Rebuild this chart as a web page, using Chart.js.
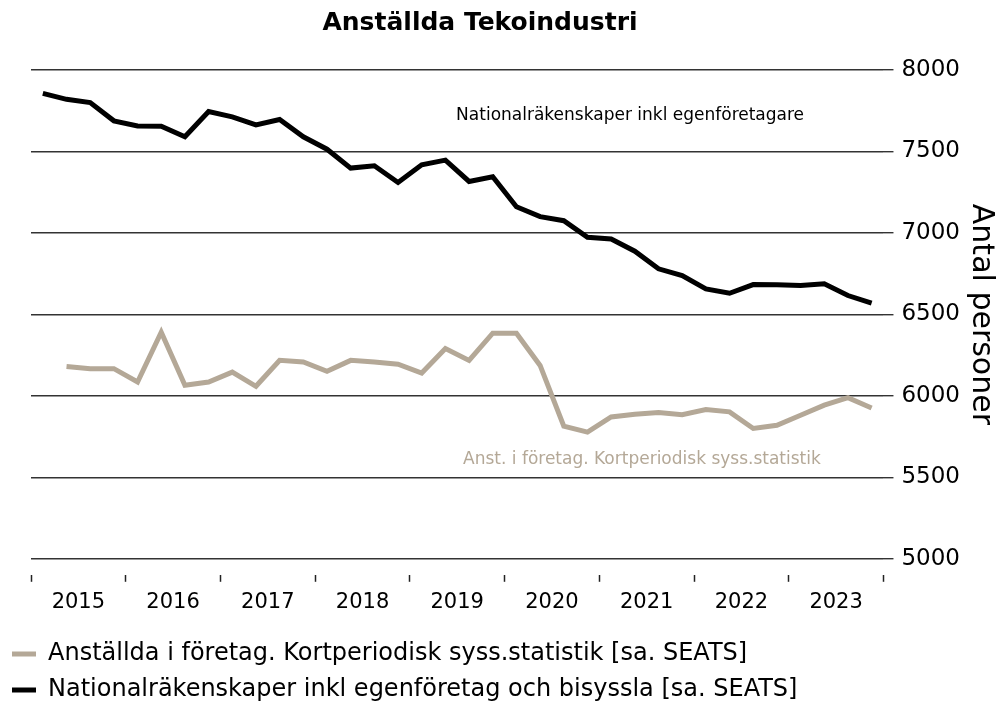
<!DOCTYPE html>
<html lang="sv">
<head>
  <meta charset="UTF-8">
  <title>Anställda Tekoindustri</title>
  <script src="https://cdn.jsdelivr.net/npm/chart.js"></script>
  <style>
    html, body { margin: 0; padding: 0; background: #fff; }
    #wrap { width: 1001px; height: 702px; }
  </style>
</head>
<body>
  <div id="wrap"><canvas id="chart"></canvas></div>
  <script>
    // Kvartalsdata 2015K1 - 2023K4
    const years = ['2015', '2016', '2017', '2018', '2019', '2020', '2021', '2022', '2023'];
    const yTicks = [5000, 5500, 6000, 6500, 7000, 7500, 8000];

    // Nationalräkenskaper inkl egenföretag och bisyssla [sa. SEATS]
    const nationalrakenskaper = [
      7857, 7820, 7800, 7688, 7657, 7655, 7590, 7745, 7712, 7663, 7696, 7590,
      7514, 7398, 7412, 7310, 7418, 7447, 7316, 7345, 7161, 7100, 7075, 6973,
      6963, 6888, 6780, 6739, 6657, 6630, 6683, 6682, 6677, 6688, 6616, 6569
    ];
    // Anställda i företag. Kortperiodisk syss.statistik [sa. SEATS]
    const kortperiodisk = [
      null, 6181, 6167, 6167, 6085, 6391, 6065, 6085, 6146, 6059, 6218, 6208,
      6151, 6218, 6208, 6194, 6140, 6290, 6218, 6385, 6385, 6187, 5814, 5778,
      5871, 5887, 5898, 5885, 5916, 5902, 5800, 5820, 5881, 5943, 5989, 5926
    ];

    const FONT = '"DejaVu Sans", sans-serif';
    const GRAY = '#b4a897';

    function toPoints(arr) {
      return arr.map((v, i) => ({ x: i + 0.5, y: v }));
    }

    // text labels next to the lines + rotated axis title
    const extraText = {
      id: 'extraText',
      afterDatasetsDraw(chart) {
        const { ctx, scales: { x, y } } = chart;
        ctx.save();
        ctx.font = '17px ' + FONT;
        ctx.textAlign = 'center';
        ctx.textBaseline = 'middle';
        ctx.fillStyle = '#000';
        ctx.fillText('Nationalräkenskaper inkl egenföretagare', x.getPixelForValue(25.3), y.getPixelForValue(7718));
        ctx.fillStyle = GRAY;
        ctx.fillText('Anst. i företag. Kortperiodisk syss.statistik', x.getPixelForValue(25.8), y.getPixelForValue(5612));

        // y axis title
        ctx.translate(981, (y.getPixelForValue(8000) + y.getPixelForValue(5000)) / 2);
        ctx.rotate(Math.PI / 2);
        ctx.fillStyle = '#000';
        ctx.font = '30px ' + FONT;
        ctx.fillText('Antal personer', 0, 0);
        ctx.restore();
      }
    };

    const ctx = document.getElementById('chart').getContext('2d');
    new Chart(ctx, {
      type: 'line',
      data: {
        datasets: [
          {
            label: 'Anställda i företag. Kortperiodisk syss.statistik [sa. SEATS]',
            data: toPoints(kortperiodisk),
            borderColor: GRAY,
            backgroundColor: GRAY,
            borderWidth: 5,
            pointRadius: 0,
            tension: 0,
            borderJoinStyle: 'miter',
            borderCapStyle: 'butt'
          },
          {
            label: 'Nationalräkenskaper inkl egenföretag och bisyssla [sa. SEATS]',
            data: toPoints(nationalrakenskaper),
            borderColor: '#000',
            backgroundColor: '#000',
            borderWidth: 5,
            pointRadius: 0,
            tension: 0,
            borderJoinStyle: 'miter',
            borderCapStyle: 'butt'
          }
        ]
      },
      options: {
        responsive: true,
        maintainAspectRatio: false,
        animation: false,
        layout: { padding: { left: 0, right: 41, top: 0, bottom: -10 } },
        plugins: {
          title: {
            display: true,
            text: 'Anställda Tekoindustri',
            color: '#000',
            font: { family: FONT, size: 25, weight: 'bold' },
            padding: { top: 8, bottom: 32 }
          },
          legend: {
            position: 'bottom',
            align: 'start',
            labels: {
              color: '#000',
              font: { family: FONT, size: 24 },
              boxWidth: 24,
              boxHeight: 5,
              padding: 12,
              generateLabels: (chart) => Chart.defaults.plugins.legend.labels.generateLabels(chart)
                .map(l => Object.assign(l, { lineWidth: 0 }))
            }
          },
          tooltip: { enabled: false }
        },
        scales: {
          x: {
            type: 'linear',
            min: 0,
            max: 36,
            border: { display: false },
            grid: {
              drawOnChartArea: false,
              tickLength: 7,
              tickWidth: 1.5,
              tickColor: (c) => (c.tick && c.tick.value % 4 === 0) ? '#222' : 'rgba(0,0,0,0)'
            },
            ticks: {
              stepSize: 2,
              autoSkip: false,
              maxRotation: 0,
              color: '#000',
              padding: 8,
              font: { family: FONT, size: 21 },
              callback: (v) => (v % 4 === 2) ? years[(v - 2) / 4] : ''
            },
            afterFit: (axis) => { axis.height += 7; }
          },
          y: {
            position: 'right',
            min: 4902,
            max: 8000,
            afterBuildTicks: (axis) => { axis.ticks = yTicks.map(v => ({ value: v })); },
            border: { display: false },
            grid: {
              color: '#333',
              lineWidth: 1.4,
              tickLength: 10
            },
            ticks: {
              color: '#000',
              padding: 4,
              crossAlign: 'far',
              font: { family: FONT, size: 23 },
              callback: (v) => String(v)
            }
          },
          // empty spacer on the left
          spacer: {
            position: 'left',
            display: true,
            grid: { display: false },
            border: { display: false },
            ticks: { display: false },
            afterFit: (axis) => { axis.width = 31; }
          }
        }
      },
      plugins: [extraText]
    });
  </script>
</body>
</html>
